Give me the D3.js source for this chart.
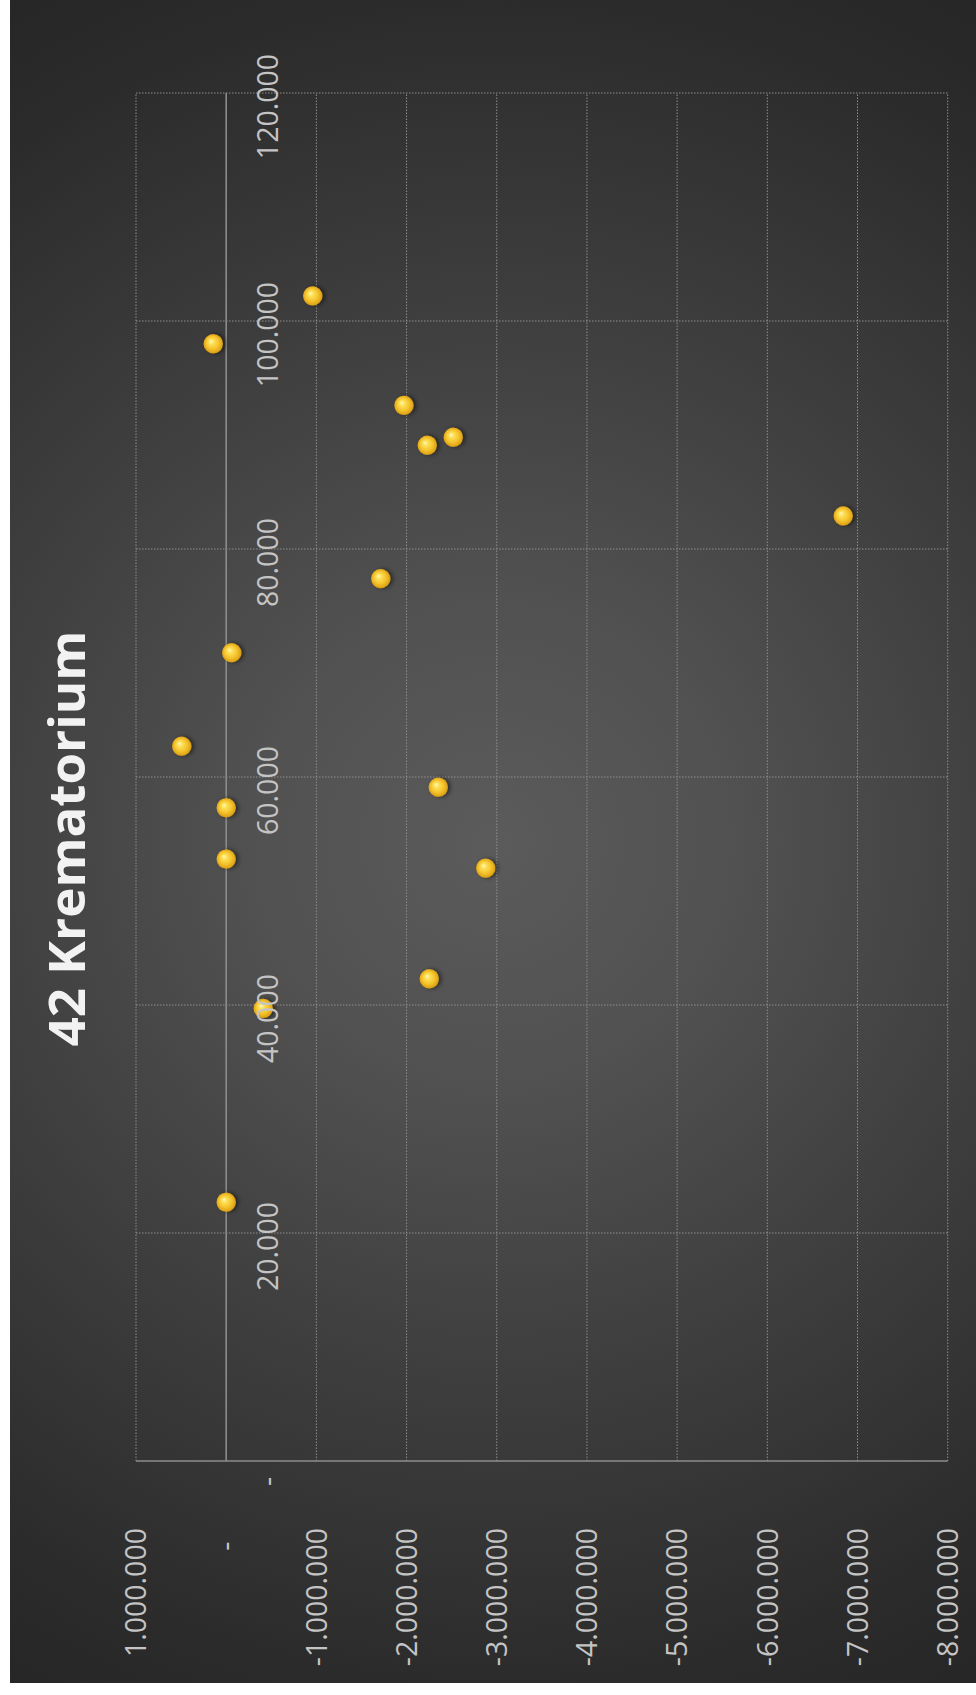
<!DOCTYPE html>
<html>
<head>
<meta charset="utf-8">
<script src="https://cdn.jsdelivr.net/npm/d3@7"></script>
<style>
  html, body { margin: 0; padding: 0; background: #ffffff; }
  svg { display: block; }
</style>
</head>
<body>
<svg id="chart" width="976" height="1695"></svg>
<script>
// ---- data ----
const title = "42 Krematorium";
const xValues = [22700, 39700, 42300, 52000, 52800, 57300, 59100, 62700, 70900, 77400, 82900, 89100, 89800, 92600, 98000, 102200];
const yValues = [0, -411000, -2252000, -2877000, 0, 0, -2352000, 493000, -61000, -1713000, -6842000, -2230000, -2518000, -1971000, 143000, -959000];
const xTicks = [0, 20000, 40000, 60000, 80000, 100000, 120000];
const yTicks = [1000000, 0, -1000000, -2000000, -3000000, -4000000, -5000000, -6000000, -7000000, -8000000];

// ---- layout (chart drawn in its own orientation, then turned -90°) ----
const W = 1695, H = 976;
const svg = d3.select("#chart");
const defs = svg.append("defs");

const bg = defs.append("radialGradient").attr("id", "bg")
  .attr("gradientUnits", "userSpaceOnUse")
  .attr("cx", 493).attr("cy", 841).attr("r", 975);
[[0, "#5b5b5b"], [0.25, "#515151"], [0.5, "#414141"], [0.87, "#2b2b2b"], [1, "#262626"]]
  .forEach(([o, c]) => bg.append("stop").attr("offset", o).attr("stop-color", c));

const gold = defs.append("radialGradient").attr("id", "gold")
  .attr("cx", 0.5).attr("cy", 0.5).attr("r", 0.55).attr("fx", 0.64).attr("fy", 0.38);
[[0, "#fff8c8"], [0.22, "#fde25a"], [0.6, "#f4c22c"], [0.85, "#e0a61a"], [1, "#b88410"]]
  .forEach(([o, c]) => gold.append("stop").attr("offset", o).attr("stop-color", c));

const shadow = defs.append("filter").attr("id", "shadow")
  .attr("x", "-50%").attr("y", "-50%").attr("width", "200%").attr("height", "200%");
shadow.append("feDropShadow").attr("dx", 0).attr("dy", 2.5).attr("stdDeviation", 2)
  .attr("flood-color", "#000").attr("flood-opacity", 0.5);

// background panel (picture coordinates)
svg.append("rect").attr("x", 10).attr("y", 0).attr("width", 966).attr("height", 1683)
  .attr("fill", "url(#bg)");

const g = svg.append("g").attr("transform", `translate(0,${W}) rotate(-90)`);

const x = d3.scaleLinear().domain([0, 120000]).range([W - 1461, W - 93]);
const y = d3.scaleLinear().domain([-8000000, 1000000]).range([947.7, 136]);

const loc = d3.formatLocale({ decimal: ",", thousands: ".", grouping: [3], currency: ["", ""], minus: "-" });
const fmt = v => v === 0 ? "-" : loc.format(",.0f")(v);

const font = "'Open Sans', 'Liberation Sans', sans-serif";
const labelColor = "#c4c4c4";

// gridlines
g.append("g").selectAll("line").data(yTicks.filter(v => v !== 0)).join("line")
  .attr("x1", x(0)).attr("x2", x(120000))
  .attr("y1", d => y(d)).attr("y2", d => y(d))
  .attr("stroke", "#8e8e8e").attr("stroke-width", 1).attr("stroke-dasharray", "1.5,1.5");
g.append("g").selectAll("line").data(xTicks.filter(v => v !== 0)).join("line")
  .attr("x1", d => x(d)).attr("x2", d => x(d))
  .attr("y1", y(1000000)).attr("y2", y(-8000000))
  .attr("stroke", "#8e8e8e").attr("stroke-width", 1).attr("stroke-dasharray", "1.5,1.5");

// axis lines
g.append("line").attr("x1", x(0)).attr("x2", x(120000)).attr("y1", y(0)).attr("y2", y(0))
  .attr("stroke", "#8c8c8c").attr("stroke-width", 1.6);
g.append("line").attr("x1", x(0)).attr("x2", x(0)).attr("y1", y(1000000)).attr("y2", y(-8000000))
  .attr("stroke", "#8c8c8c").attr("stroke-width", 1.6);

// points
g.append("g").selectAll("circle").data(xValues.map((v, i) => [v, yValues[i]])).join("circle")
  .attr("cx", d => x(d[0])).attr("cy", d => y(d[1])).attr("r", 9.7)
  .attr("fill", "url(#gold)").attr("filter", "url(#shadow)");

// x axis labels (drawn above the points)
const xAx = g.append("g").attr("transform", `translate(0,${y(0)})`)
  .call(d3.axisBottom(x).tickValues(xTicks).tickSize(0).tickFormat(fmt));
xAx.select(".domain").remove();
xAx.selectAll("text")
  .attr("y", 52).attr("dy", 0)
  .attr("dx", d => d === 0 ? -21 : -14)
  .attr("fill", labelColor).style("font-family", font).style("font-size", "28.5px");

// y axis labels
const yAx = g.append("g").attr("transform", `translate(${x(0)},0)`)
  .call(d3.axisLeft(y).tickValues(yTicks).tickSize(0).tickFormat(fmt));
yAx.select(".domain").remove();
yAx.selectAll("text")
  .attr("x", d => d === 0 ? -80.5 : -67).attr("dy", 0).attr("y", 9.7)
  .attr("text-anchor", "end")
  .attr("fill", labelColor).style("font-family", font).style("font-size", "28.5px");

// title
g.append("text").attr("x", 856.5).attr("y", 85).attr("text-anchor", "middle")
  .attr("fill", "#f2f2f2").style("font-family", font).style("font-weight", "bold")
  .style("font-size", "51px").text(title);
</script>
</body>
</html>
